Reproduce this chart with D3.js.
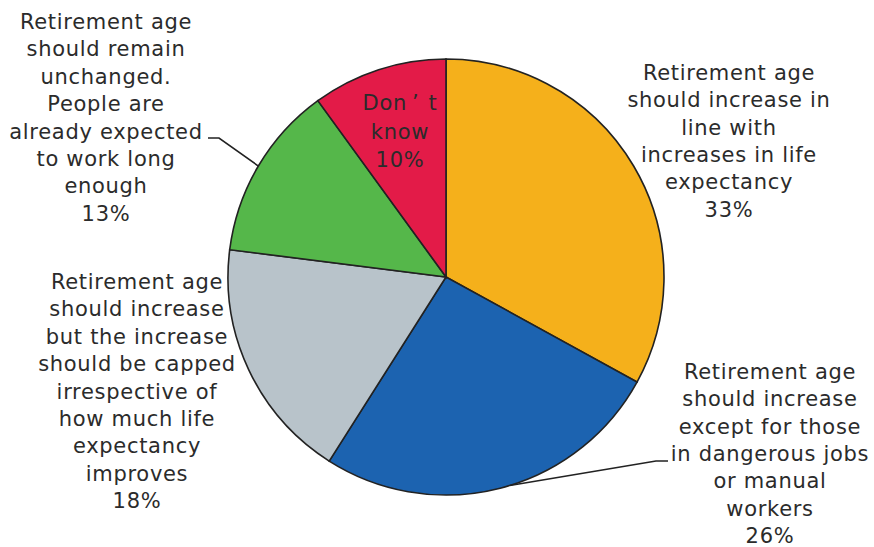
<!DOCTYPE html>
<html>
<head>
<meta charset="utf-8">
<script src="https://cdn.jsdelivr.net/npm/d3@7"></script>
<style>
  body { margin: 0; background: #fff; }
  text { font-family: "DejaVu Sans", Verdana, sans-serif; font-size: 21px; fill: #2b2b2b; letter-spacing: 0.7px; }
</style>
</head>
<body>
<svg id="pie"></svg>
<script>
// survey answers, clockwise from 12 o'clock
var categories = [
  "Retirement age should increase in line with increases in life expectancy",
  "Retirement age should increase except for those in dangerous jobs or manual workers",
  "Retirement age should increase but the increase should be capped irrespective of how much life expectancy improves",
  "Retirement age should remain unchanged. People are already expected to work long enough",
  "Don\u2019t know"
];
var values = [33, 26, 18, 13, 10];
// how each label is broken into lines in the picture
var labelLines = [
  ["Retirement age", "should increase in", "line with", "increases in life", "expectancy"],
  ["Retirement age", "should increase", "except for those", "in dangerous jobs", "or manual", "workers"],
  ["Retirement age", "should increase", "but the increase", "should be capped", "irrespective of", "how much life", "expectancy", "improves"],
  ["Retirement age", "should remain", "unchanged.", "People are", "already expected", "to work long", "enough"],
  ["Don\u2019t", "know"]
];
var colors = ["#f5b01b", "#1c63b0", "#b8c3ca", "#55b74a", "#e31b48"];

var W = 874, H = 547;
var cx = 446, cy = 277, radius = 218;

// label placement (anchor x, first baseline y, line step), leader lines where needed
var labelPos = [
  { x: 729, y: 80, step: 27.3 },
  { x: 770, y: 379, step: 27.3, leader: [[668, 461], [656, 461]], angle: 163 },
  { x: 137, y: 289, step: 27.4 },
  { x: 106, y: 29, step: 27.4, leader: [[208, 138], [219, 138]] },
  { x: 400, y: 110, step: 28.5 }
];

var svg = d3.select("#pie").attr("width", W).attr("height", H);
var g = svg.append("g").attr("transform", "translate(" + cx + "," + cy + ")");

var pie = d3.pie().sort(null).value(function (d) { return d; });
var arcs = pie(values);
var arc = d3.arc().innerRadius(0).outerRadius(radius);

// leader lines first, so the pie edge sits on top
arcs.forEach(function (a, i) {
  var p = labelPos[i];
  if (!p.leader) return;
  var ang = p.angle !== undefined ? p.angle * Math.PI / 180 : (a.startAngle + a.endAngle) / 2;
  var end = [cx + radius * Math.sin(ang), cy - radius * Math.cos(ang)];
  var pts = p.leader.concat([end]);
  svg.append("path")
    .attr("d", d3.line()(pts))
    .attr("fill", "none")
    .attr("stroke", "#222")
    .attr("stroke-width", 1.6);
});

g.selectAll("path.slice")
  .data(arcs)
  .enter().append("path")
  .attr("class", "slice")
  .attr("d", arc)
  .attr("fill", function (d, i) { return colors[i]; })
  .attr("stroke", "#222")
  .attr("stroke-width", 1.6);

// labels
labelLines.forEach(function (lines, i) {
  var p = labelPos[i];
  var t = svg.append("text").attr("text-anchor", "middle");
  var all = lines.concat([values[i] + "%"]);
  all.forEach(function (line, k) {
    var ts = t.append("tspan").attr("x", p.x).attr("y", p.y + k * p.step);
    if (line.indexOf("\u2019") >= 0) {
      // the apostrophe is set wide in the original
      var parts = line.split("\u2019");
      ts.text(parts[0]);
      t.append("tspan").attr("dx", 5).text("\u2019");
      t.append("tspan").attr("dx", 9).text(parts[1]);
    } else {
      ts.text(line);
    }
  });
});
</script>
</body>
</html>
